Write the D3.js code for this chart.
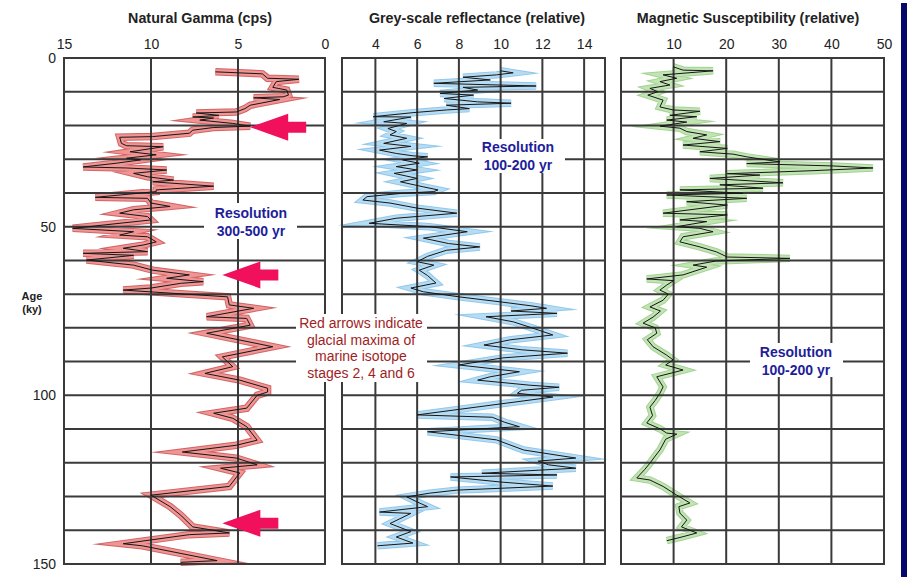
<!DOCTYPE html>
<html>
<head>
<meta charset="utf-8">
<script src="https://cdn.jsdelivr.net/npm/d3@7"></script>
<style>
  body { margin: 0; background: #fff; }
  svg { display: block; font-family: "Liberation Sans", Arial, sans-serif; }
</style>
</head>
<body>
<svg id="chart" width="907" height="577"></svg>
<script>
// ---- tick labels ----
const ageTicks = [0, 50, 100, 150];
const gammaTicks = [15, 10, 5, 0];
const greyTicks = [4, 6, 8, 10, 12, 14];
const magTicks = [10, 20, 30, 40, 50];

// ---- series: [age (ky), value] ----
const gammaData = [
  [4.1,6.3],[4.7,3.6],[6.0,3.3],[6.3,1.5],[7.0,2.8],[8.7,3.0],[9.5,2.2],[11.0,2.1],[11.5,2.4],
  [11.8,4.1],[12.3,2.6],[14.0,4.3],[15.0,4.6],[16.0,5.1],[16.3,7.4],[17.0,6.1],[17.5,7.6],
  [17.8,6.4],[18.4,7.2],[19.4,5.3],[20.2,4.3],[20.6,6.4],[21.4,7.6],[22.3,7.8],[23.3,9.9],
  [23.5,11.8],[25.3,11.7],[26.0,11.4],[26.3,9.3],[27.8,11.2],[28.7,9.7],[29.7,11.4],[30.2,10.6],
  [31.2,12.0],[32.3,13.9],[32.6,11.4],[33.2,9.1],[34.2,11.0],[35.2,10.2],[36.2,8.7],[36.7,9.9],
  [38.0,6.4],[39.1,9.7],[39.6,9.7],[41.3,13.2],[41.6,10.2],[43.0,10.0],[44.0,8.9],[45.0,11.0],
  [46.0,11.8],[47.0,10.2],[48.0,10.0],[50.5,14.5],[51.5,11.0],[52.5,11.8],[53.0,10.2],[54.5,9.7],
  [55.4,10.4],[56.4,11.6],[57.4,10.2],[57.9,13.9],[58.5,11.0],[59.9,13.7],[61.4,11.0],[62.9,9.9],
  [64.3,7.8],[65.3,9.1],[66.3,7.0],[66.8,8.3],[68.2,10.0],[68.8,11.6],[70.8,5.6],[73.2,5.5],
  [74.2,4.1],[76.7,6.8],[77.2,4.5],[79.2,4.3],[81.6,6.8],[85.6,3.0],[88.6,5.9],[91.5,5.3],
  [93.5,6.9],[95.5,4.9],[97.9,3.3],[99.0,3.3],[100.0,3.9],[103.8,4.5],[105.3,6.4],[106.8,5.3],
  [109.3,4.5],[113.3,3.9],[114.8,5.1],[116.8,8.2],[118.6,5.1],[120.6,3.9],[121.6,6.0],[123.0,4.9],
  [127.0,5.5],[129.6,10.0],[133.0,8.9],[135.5,8.3],[139.0,7.6],[140.8,5.5],[141.3,7.8],[144.0,11.6],
  [144.6,10.5],[149.0,6.2],[149.5,8.3]
];

const greyData = [
  [3.8,10.0],[4.4,10.6],[5.0,9.8],[5.7,8.2],[6.5,9.5],[7.5,6.8],[8.3,11.7],[8.7,8.2],[9.5,8.9],
  [10.5,7.1],[11.0,8.7],[12.0,7.3],[13.0,8.9],[13.4,10.5],[14.0,7.4],[15.0,8.5],[15.4,7.4],
  [16.2,5.8],[17.4,3.9],[17.5,5.7],[18.9,4.4],[19.4,5.5],[20.9,4.6],[21.8,5.0],[22.8,4.7],
  [23.8,5.5],[25.3,4.4],[26.2,5.7],[27.3,4.2],[28.3,5.0],[29.0,5.8],[29.3,6.5],[30.2,5.3],
  [31.2,6.1],[32.2,5.0],[33.2,6.0],[34.2,4.9],[35.7,6.0],[36.7,5.2],[38.2,6.3],[39.1,7.0],
  [39.6,6.8],[40.1,5.3],[41.1,3.6],[42.1,3.4],[43.0,4.7],[44.5,6.0],[46.0,7.9],[47.5,5.0],
  [49.0,3.7],[50.0,6.6],[51.5,8.4],[53.4,6.3],[55.0,7.5],[56.0,9.0],[57.0,7.4],[58.8,6.5],
  [60.4,6.0],[61.4,6.8],[62.9,6.1],[64.5,6.5],[66.7,6.9],[68.2,5.7],[69.3,6.3],[70.8,8.0],
  [72.3,10.0],[73.5,11.5],[74.2,12.2],[75.0,10.5],[75.7,12.7],[76.7,9.3],[78.2,10.6],[80.0,11.5],
  [82.1,12.5],[83.5,10.5],[85.1,9.2],[86.5,11.0],[87.5,13.2],[88.9,10.1],[91.0,8.0],[93.0,10.9],
  [94.5,9.5],[95.5,8.9],[97.0,11.4],[97.6,12.8],[98.5,11.0],[99.4,10.8],[100.5,12.5],[102.3,10.3],
  [105.8,6.0],[106.5,9.6],[108.0,10.2],[109.3,10.9],[110.8,6.5],[113.2,9.8],[116.2,11.1],
  [118.6,13.6],[119.5,11.8],[120.6,12.3],[121.6,13.6],[123.1,9.1],[123.6,12.7],[124.2,7.6],
  [125.7,10.0],[126.9,12.5],[128.1,7.9],[129.0,6.6],[130.1,5.5],[131.6,6.0],[133.0,6.5],
  [134.6,4.2],[135.0,5.7],[138.0,4.7],[140.4,5.7],[142.0,5.0],[143.8,5.8],[144.6,4.1]
];

const magData = [
  [2.6,9.9],[3.6,11.8],[3.8,17.5],[5.0,8.0],[6.0,10.6],[7.0,7.4],[8.0,9.3],[9.0,5.5],[10.0,7.0],
  [11.0,5.1],[12.5,8.0],[14.5,7.4],[15.4,9.9],[15.8,15.0],[17.0,9.3],[17.4,14.4],[18.4,8.7],
  [19.0,12.5],[20.2,7.4],[20.8,11.2],[21.8,12.5],[22.8,16.3],[23.8,13.7],[24.8,18.8],[25.8,11.8],
  [26.8,20.2],[27.8,15.0],[28.5,21.3],[29.3,23.9],[30.8,30.2],[31.3,23.9],[32.0,40.3],[32.6,47.9],
  [33.4,36.5],[34.3,20.2],[34.7,26.4],[35.7,16.9],[37.0,30.8],[37.6,18.8],[38.6,27.0],[39.1,11.2],
  [40.1,23.2],[40.6,8.7],[41.6,23.9],[42.6,12.5],[43.6,20.2],[46.0,8.0],[46.5,20.2],[48.0,11.2],
  [48.5,16.3],[50.0,10.6],[50.5,15.0],[51.5,17.5],[53.0,11.8],[54.5,11.2],[56.0,15.0],[57.5,18.2],
  [59.0,20.2],[59.4,32.1],[60.2,18.0],[61.4,13.7],[62.0,16.3],[64.3,11.8],[65.5,4.9],[66.0,10.0],
  [67.3,8.7],[68.8,7.4],[70.0,9.0],[71.8,8.0],[73.8,5.5],[75.0,7.5],[76.8,6.1],[78.6,4.2],
  [80.0,6.5],[81.6,6.8],[83.5,5.0],[85.6,6.1],[88.1,8.7],[89.5,9.9],[91.0,8.5],[92.5,11.8],
  [94.5,6.8],[97.5,8.0],[99.4,7.4],[101.5,6.5],[103.5,5.5],[106.0,6.0],[108.2,4.9],[110.0,7.5],
  [111.2,8.7],[111.5,10.6],[113.0,8.5],[116.2,7.4],[118.0,6.5],[120.1,5.5],[122.0,4.5],[124.5,3.0],
  [125.1,5.5],[127.0,8.0],[129.6,10.6],[131.9,13.1],[133.0,11.0],[134.9,11.2],[137.0,12.5],
  [139.0,11.5],[140.8,14.4],[141.9,11.8],[143.1,8.7]
];

// glacial maxima arrows: [age, gamma value at arrow tip]
const arrowMarks = [[20.5, 4.3], [64.3, 5.9], [137.9, 5.9]];

// ---- layout ----
const svg = d3.select("#chart");
const W = 907, H = 577;
const plotTop = 58, plotBottom = 564;
const gridColor = "#3a3a3a";

svg.append("rect").attr("width", W).attr("height", H).attr("fill", "#fff");

const y = d3.scaleLinear().domain([0, 150]).range([plotTop, plotBottom]);

const panels = [
  { title: "Natural Gamma (cps)", titleX: 200, domain: [15, 0], x0: 64, x1: 325,
    ticks: gammaTicks, data: gammaData, edge: "#d26464", band: "#f09494" },
  { title: "Grey-scale reflectance (relative)", titleX: 477, domain: [2.4, 15], x0: 342, x1: 605,
    ticks: greyTicks, data: greyData, edge: "#92c8ec", band: "#b6dcf4" },
  { title: "Magnetic Susceptibility (relative)", titleX: 748, domain: [0, 50], x0: 621, x1: 884,
    ticks: magTicks, data: magData, edge: "#a2d392", band: "#c2e4b4" }
];
panels.forEach(p => { p.x = d3.scaleLinear().domain(p.domain).range([p.x0, p.x1]); });

const bandLayer = svg.append("g");
const gridLayer = svg.append("g");
const lineLayer = svg.append("g");
const noteLayer = svg.append("g");

panels.forEach(p => {
  const line = d3.line().x(d => p.x(d[1])).y(d => y(d[0]));

  // uncertainty band: darker rim + light fill
  bandLayer.append("path").datum(p.data).attr("d", line)
    .attr("fill", "none").attr("stroke", p.edge).attr("stroke-width", 7.5)
    .attr("stroke-linejoin", "miter").attr("stroke-miterlimit", 9);
  bandLayer.append("path").datum(p.data).attr("d", line)
    .attr("fill", "none").attr("stroke", p.band).attr("stroke-width", 5.5)
    .attr("stroke-linejoin", "miter").attr("stroke-miterlimit", 9);

  // grid: every 10 ky, and at each labelled value
  const g = gridLayer.append("g").attr("stroke", gridColor).attr("stroke-width", 2);
  g.selectAll("line.h").data(d3.range(10, 150, 10)).join("line")
    .attr("x1", p.x0).attr("x2", p.x1).attr("y1", d => y(d)).attr("y2", d => y(d));
  g.selectAll("line.v").data(p.ticks.filter(t => Math.abs(p.x(t) - p.x0) > 2 && Math.abs(p.x(t) - p.x1) > 2))
    .join("line")
    .attr("x1", d => p.x(d)).attr("x2", d => p.x(d)).attr("y1", plotTop).attr("y2", plotBottom);
  g.append("rect").attr("x", p.x0).attr("y", plotTop).attr("width", p.x1 - p.x0).attr("height", plotBottom - plotTop)
    .attr("fill", "none");

  // measured curve
  lineLayer.append("path").datum(p.data).attr("d", line)
    .attr("fill", "none").attr("stroke", "#161616").attr("stroke-width", 1)
    .attr("stroke-linejoin", "round");

  // top axis
  const ax = svg.append("g").attr("transform", `translate(0,${plotTop})`)
    .call(d3.axisTop(p.x).tickValues(p.ticks).tickSize(0).tickPadding(9));
  ax.select(".domain").remove();
  ax.selectAll("text").attr("font-size", 14).attr("fill", "#222")
    .attr("font-family", "'Liberation Sans', Arial, sans-serif");

  svg.append("text").attr("x", p.titleX).attr("y", 23).attr("text-anchor", "middle")
    .attr("font-size", 14.3).attr("font-weight", "bold").attr("fill", "#222").text(p.title);
});

// age axis
const ay = svg.append("g").attr("transform", `translate(64,0)`)
  .call(d3.axisLeft(y).tickValues(ageTicks).tickSize(0).tickPadding(8));
ay.select(".domain").remove();
ay.selectAll("text").attr("font-size", 14).attr("fill", "#222")
  .attr("font-family", "'Liberation Sans', Arial, sans-serif");

svg.append("text").attr("x", 32).attr("y", 300).attr("text-anchor", "middle")
  .attr("font-size", 11).attr("font-weight", "bold").attr("fill", "#222").text("Age");
svg.append("text").attr("x", 32).attr("y", 313).attr("text-anchor", "middle")
  .attr("font-size", 11).attr("font-weight", "bold").attr("fill", "#222").text("(ky)");

// glacial-maximum arrows, tip at the given age / gamma value
const gx = panels[0].x;
noteLayer.selectAll("path.arrow").data(arrowMarks).join("path")
  .attr("fill", "#f0105c")
  .attr("d", d => {
    const tx = gx(d[1]), ty = y(d[0]);
    const head = 38, len = 56, hh = 13.5, sh = 5.5;
    return `M${tx},${ty} L${tx + head},${ty - hh} L${tx + head},${ty - sh} L${tx + len},${ty - sh}` +
           ` L${tx + len},${ty + sh} L${tx + head},${ty + sh} L${tx + head},${ty + hh} Z`;
  });

// text notes on white boxes
function note(cx, lines, y0, dy, color, bold, size, box) {
  const g = noteLayer.append("g");
  g.append("rect").attr("x", box[0]).attr("y", box[1]).attr("width", box[2]).attr("height", box[3])
    .attr("fill", "#fff");
  lines.forEach((t, i) => {
    g.append("text").attr("x", cx).attr("y", y0 + i * dy).attr("text-anchor", "middle")
      .attr("font-size", size).attr("font-weight", bold ? "bold" : "normal")
      .attr("fill", color).text(t);
  });
}
note(251, ["Resolution", "300-500 yr"], 218, 17.5, "#1e1e9a", true, 14, [204, 203, 93, 36]);
note(518, ["Resolution", "100-200 yr"], 152, 17.5, "#1e1e9a", true, 14, [472, 139, 93, 34]);
note(796, ["Resolution", "100-200 yr"], 357, 17.5, "#1e1e9a", true, 14, [750, 343, 93, 34]);
note(361, ["Red arrows indicate", "glacial maxima of", "marine isotope", "stages 2, 4 and 6"],
     328, 16.5, "#a01e1e", false, 14, [296, 314, 131, 68]);

// navy edge bar
svg.append("rect").attr("x", 901).attr("y", 3).attr("width", 6).attr("height", H - 3).attr("fill", "#07076b");
</script>
</body>
</html>
